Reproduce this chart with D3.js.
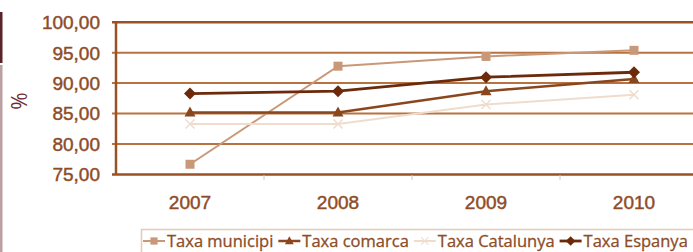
<!DOCTYPE html>
<html>
<head>
<meta charset="utf-8">
<script src="https://cdn.jsdelivr.net/npm/d3@7"></script>
<style>
  body { margin: 0; background: #fff; }
  svg { display: block; font-family: "Open Sans", "Noto Sans", sans-serif; }
</style>
</head>
<body>
<svg id="chart" width="693" height="252"></svg>
<script>
// data
var years = ["2007", "2008", "2009", "2010"];
var taxaMunicipi = [76.6, 92.7, 94.3, 95.3];
var taxaComarca = [85.1, 85.1, 88.6, 90.6];
var taxaCatalunya = [83.2, 83.2, 86.4, 88.0];
var taxaEspanya = [88.2, 88.6, 90.9, 91.7];
var yTicks = [75, 80, 85, 90, 95, 100];

var series = [
  {name: "Taxa municipi", values: taxaMunicipi, color: "#c99878", width: 2, symbol: "square"},
  {name: "Taxa comarca", values: taxaComarca, color: "#8a461c", width: 2.5, symbol: "triangle"},
  {name: "Taxa Catalunya", values: taxaCatalunya, color: "#f0dccd", width: 2, symbol: "cross"},
  {name: "Taxa Espanya", values: taxaEspanya, color: "#6c2a0b", width: 2.8, symbol: "diamond"}
];

var svg = d3.select("#chart");
var plotLeft = 116, plotTop = 21.7, plotBottom = 174, plotRight = 708;

var x = d3.scaleBand().domain(years).range([plotLeft, plotRight]).paddingInner(0).paddingOuter(0);
var y = d3.scaleLinear().domain([75, 100]).range([plotBottom, plotTop]);
var comma = d3.formatLocale({decimal: ",", thousands: ".", grouping: [3], currency: ["", "€"]}).format(".2f");

// left strip
svg.append("rect").attr("x", 0).attr("y", 12).attr("width", 2.5).attr("height", 51).attr("fill", "#5a2329");
svg.append("rect").attr("x", 0).attr("y", 65).attr("width", 2.5).attr("height", 187).attr("fill", "#baa0a0");

// gridlines
var grid = svg.append("g").attr("transform", "translate(" + plotLeft + ",0)")
  .call(d3.axisLeft(y).tickValues(yTicks).tickSize(-(693 - plotLeft)).tickFormat(""));
grid.select(".domain").remove();
grid.selectAll(".tick line")
  .attr("x1", -4)
  .attr("stroke", function(d) { return (d == 75 || d == 100) ? "#9c5124" : "#b8723f"; })
  .attr("stroke-width", function(d) { return (d == 75 || d == 100) ? 2.5 : 2; });

// left axis line
svg.append("line").attr("x1", plotLeft).attr("x2", plotLeft).attr("y1", plotTop).attr("y2", plotBottom)
  .attr("stroke", "#9c5124").attr("stroke-width", 2.5);

// y labels
var yAxis = svg.append("g").attr("transform", "translate(" + plotLeft + ",0)")
  .call(d3.axisLeft(y).tickValues(yTicks).tickSize(0).tickPadding(16).tickFormat(comma));
yAxis.select(".domain").remove();
yAxis.selectAll("text").attr("fill", "#8e4c26").attr("stroke", "#8e4c26").attr("stroke-width", 0.45)
  .style("font-size", "19px").attr("dy", "0.36em");

// x axis
var xAxis = svg.append("g").attr("transform", "translate(0," + plotBottom + ")")
  .call(d3.axisBottom(x).tickSize(0).tickPadding(22));
xAxis.select(".domain").remove();
xAxis.selectAll("text").attr("fill", "#8e4c26").attr("stroke", "#8e4c26").attr("stroke-width", 0.45)
  .style("font-size", "19px");
svg.append("g").selectAll("line").data(years.slice(1)).enter().append("line")
  .attr("x1", function(d) { return x(d); }).attr("x2", function(d) { return x(d); })
  .attr("y1", plotBottom + 1).attr("y2", plotBottom + 6)
  .attr("stroke", "#ddc4b4").attr("stroke-width", 1);

// % label
svg.append("text").attr("transform", "translate(27,101) rotate(-90)")
  .attr("text-anchor", "middle").attr("fill", "#6e2d35").style("font-size", "21px").text("%");

// lines and markers
var line = d3.line()
  .x(function(d, i) { return x(years[i]) + x.bandwidth() / 2; })
  .y(function(d) { return y(d); });

function drawMarker(g, s) {
  if (s.symbol == "cross") {
    g.append("path").attr("d", "M-4.5,-4.5L4.5,4.5M-4.5,4.5L4.5,-4.5")
      .attr("stroke", s.color).attr("stroke-width", 1.5).attr("fill", "none");
  } else if (s.symbol == "square") {
    g.append("rect").attr("x", -4.5).attr("y", -4.5).attr("width", 9).attr("height", 9).attr("fill", s.color);
  } else if (s.symbol == "diamond") {
    g.append("path").attr("d", "M0,-6L6,0L0,6L-6,0Z").attr("fill", s.color);
  } else {
    g.append("path").attr("d", "M0,-6L5.5,4L-5.5,4Z").attr("fill", s.color);
  }
}

series.forEach(function(s) {
  svg.append("path").datum(s.values).attr("d", line)
    .attr("fill", "none").attr("stroke", s.color).attr("stroke-width", s.width);
  s.values.forEach(function(v, i) {
    var g = svg.append("g")
      .attr("transform", "translate(" + (x(years[i]) + x.bandwidth() / 2) + "," + y(v) + ")");
    drawMarker(g, s);
  });
});

// legend
var legend = svg.append("g");
legend.append("rect").attr("x", 141.5).attr("y", 229.5).attr("width", 600).attr("height", 30)
  .attr("fill", "none").attr("stroke", "#e6cbb4").attr("stroke-width", 1.5);
var lx = 143;
series.forEach(function(s) {
  var g = legend.append("g").attr("transform", "translate(" + lx + ",241)");
  g.append("line").attr("x1", 0).attr("x2", 22).attr("stroke", s.color).attr("stroke-width", s.width);
  var m = g.append("g").attr("transform", "translate(11,0) scale(0.8)");
  drawMarker(m, s);
  var t = g.append("text").attr("x", 24).attr("dy", "0.35em").attr("fill", "#8e4c26")
    .attr("stroke", "#8e4c26").attr("stroke-width", 0.3)
    .style("font-size", "16.5px").text(s.name);
  lx += 24 + t.node().getComputedTextLength() + 5;
});
</script>
</body>
</html>
